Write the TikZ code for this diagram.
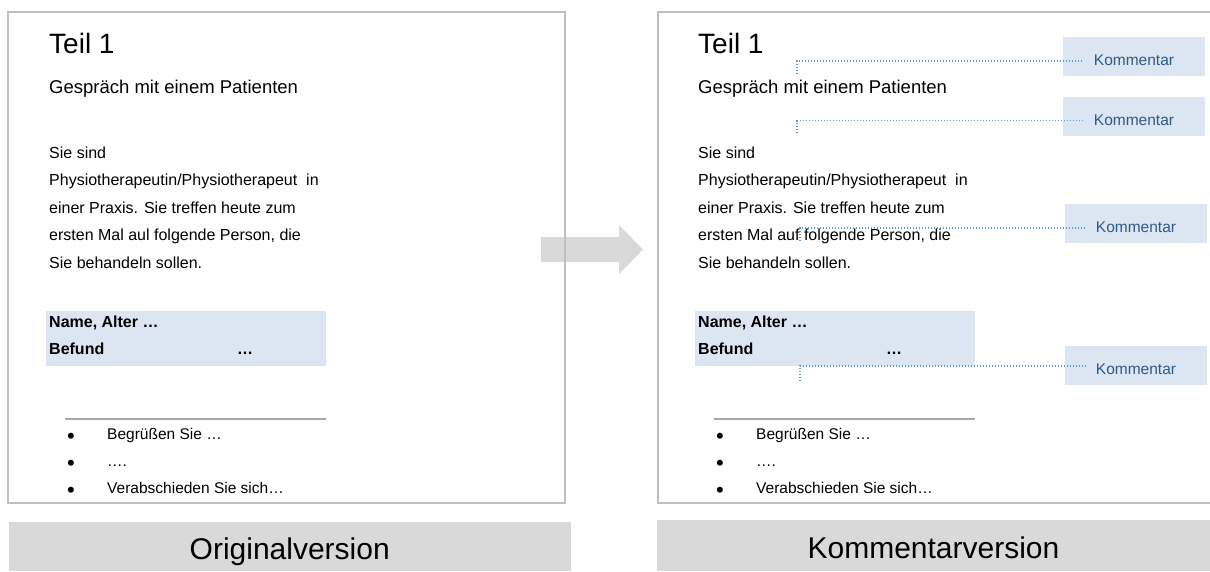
\documentclass[tikz,border=0pt]{standalone}
\usepackage{fontspec}
\setmainfont{Liberation Sans}

\definecolor{rahmen}{HTML}{BFBFBF}
\definecolor{balken}{HTML}{D9D9D9}
\definecolor{hellblau}{HTML}{DCE6F2}
\definecolor{kommtext}{HTML}{2E5A87}
\definecolor{punkte}{HTML}{5B9BD5}
\definecolor{trennlinie}{HTML}{A6A6A6}

\begin{document}
\begin{tikzpicture}[x=1pt,y=-1pt,
  txt/.style={anchor=base west, inner sep=0pt},
  kommentar/.style={fill=hellblau, minimum width=142pt, minimum height=39pt,
    inner sep=0pt, text=kommtext, font=\fontsize{15.5}{18}\selectfont,
    text height=17pt, text depth=0pt},
  kommlinie/.style={punkte, line width=1.5pt, dash pattern=on 1.3pt off 1.7pt},
  version/.style={fill=balken, inner sep=0pt, font=\fontsize{30}{36}\selectfont,
    text height=26pt, text depth=0pt}]
  \useasboundingbox (0,0) rectangle (1210,571);

  % Arrow between the two versions
  \fill[balken] (541,237) -- (619,237) -- (619,225) -- (643,249.5)
    -- (619,274) -- (619,262) -- (541,262) -- cycle;

  % Pages
  \draw[rahmen, line width=2pt] (8,12) rectangle (565,503);
  \draw[rahmen, line width=2pt] (1214,12) -| (658,503) -- (1214,503);

  % Page content (same on both sides)
  \foreach \dx/\pg/\wort in {0/o/aul, 649/k/auf} {
    \begin{scope}[xshift=\dx pt]
      \node[txt, font=\fontsize{28}{32}\selectfont] (\pg-teil) at (49,53) {Teil 1};
      \node[txt, font=\fontsize{18.5}{22}\selectfont] (\pg-gespr) at (49,93) {Gespräch mit einem Patienten};
      \foreach \zeile [count=\i] in {Sie sind, Physiotherapeutin/Physiotherapeut \ in,
          einer Praxis. Sie treffen heute zum, {ersten Mal \wort{} folgende Person, die},
          Sie behandeln sollen.}
        \node[txt, font=\fontsize{16}{19}\selectfont] (\pg-z\i) at (49,{158+27.5*(\i-1)}) {\zeile};

      \fill[hellblau] (45.5,311) rectangle (326,366);
      \node[txt, font=\fontsize{16}{19}\selectfont\bfseries] (\pg-name) at (49,327) {Name, Alter …};
      \node[txt, font=\fontsize{16}{19}\selectfont\bfseries] (\pg-befund) at (49,354) {Befund};
      \node[txt, font=\fontsize{16}{19}\selectfont\bfseries] (\pg-dots) at (237,354) {…};

      \draw[trennlinie, line width=2pt] (65,418.5) -- (326,418.5);
      \foreach \punkt [count=\i] in {Begrüßen Sie …, …., Verabschieden Sie sich…} {
        \node[txt, font=\fontsize{22}{24}\selectfont] (\pg-p\i) at (67,{443+27*(\i-1)}) {•};
        \node[txt, font=\fontsize{15.5}{18}\selectfont] (\pg-b\i) at (107,{439+27*(\i-1)}) {\punkt};
      }
    \end{scope}
  }

  % Comments
  \node[kommentar] (k1) at (1134,56.5) {Kommentar};
  \node[kommentar] (k2) at (1134,116.5) {Kommentar};
  \node[kommentar] (k3) at (1136,223.5) {Kommentar};
  \node[kommentar] (k4) at (1136,365.5) {Kommentar};

  \coordinate (t1) at (797,74);
  \coordinate (t2) at (797,133);
  \coordinate (t3) at (800,241);
  \coordinate (t4) at (800,381);
  \draw[kommlinie] (t1) |- ([xshift=21pt,yshift=-4.5pt]k1.west);
  \draw[kommlinie] (t2) |- ([xshift=21pt,yshift=-4pt]k2.west);
  \draw[kommlinie] (t3) |- ([xshift=21pt,yshift=-4.5pt]k3.west);
  \draw[kommlinie] (t4) |- ([xshift=21pt,yshift=-0.5pt]k4.west);

  % Labels
  \node[version, minimum width=562.5pt, minimum height=49pt] (orig) at (289.75,546.5) {Originalversion};
  \node[version, minimum width=553pt, minimum height=51pt] (komm) at (933.5,545.5) {Kommentarversion};
\end{tikzpicture}
\end{document}
